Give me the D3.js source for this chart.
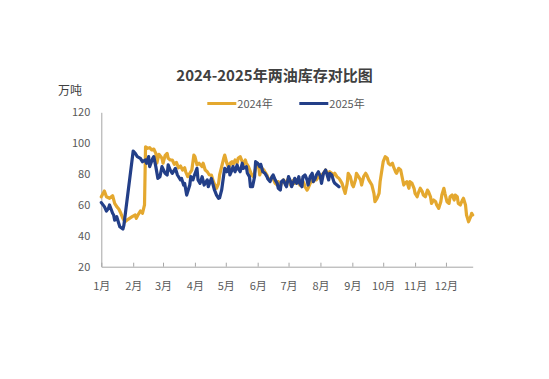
<!DOCTYPE html>
<html><head><meta charset="utf-8">
<script src="https://cdn.jsdelivr.net/npm/d3@7"></script>
<style>
html,body{margin:0;padding:0;background:#fff;}
svg{display:block;font-family:"Noto Sans CJK SC","Noto Sans",sans-serif;}
</style></head>
<body><svg id="chart" width="549" height="379"></svg>
<script>
// ---- data (day-of-year offsets from Jan 1, values in 万吨) ----
const monthLabels = ["1月","2月","3月","4月","5月","6月","7月","8月","9月","10月","11月","12月"];
const yTicks = [20,40,60,80,100,120];
const seriesNames = ["2024年","2025年"];

const days2024 = [0,3,5,8,11,13,15,17,19,21,23,26,30,33,34,36,38,40,42,43,45,47,49,51,53,54,56,59,60,62,64,65,67,69,71,73,75,77,79,81,82,84,86,88,90,91,93,95,98,99,101,103,105,107,109,111,112,114,115,117,119,120,122,124,125,127,128,130,132,133,135,137,138,140,141,143,145,146,148,150,151,153,154,156,158,159,161,162,164,166,167,169,171,172,174,175,177,179,180,182,184,185,187,188,190,192,193,195,197,198,200,201,203,205,206,208,209,211,213,214,216,218,219,221,222,224,226,227,229,231,232,234,235,237,239,240,242,244,245,247,248,250,252,253,255,257,258,260,261,263,265,266,268,270,271,273,274,276,278,279,281,283,284,286,287,289,291,292,294,295,297,299,300,302,304,305,307,308,310,312,313,315,317,318,320,321,323,325,326,328,330,331,333,334,336,338,339,341,343,344,346,347,349,351,352,354,355,357,359,360,361];
const values2024 = [65.3,69,65.3,64.3,66,61,58.9,57.4,54.6,51.3,49.1,50.7,52.4,53.5,51.3,53.9,56.1,54.6,60,97.7,96.7,97.1,95.6,96.2,93.4,87,92.8,90.2,87,91.9,93.4,90.2,89.1,89.1,86.3,87.6,84.1,85.2,82.6,84.1,81.5,78.3,80.5,82.6,92.3,91.3,85.9,87,84.8,87,82.6,81.5,79.4,79.4,75.1,71.8,70.8,74,79.4,84.8,90.2,92.3,87,83.7,87,88,85.9,89.1,87,90.2,91.3,88,85.9,89.1,87,84.8,81.5,79.4,78.3,83.7,87,84.8,79.4,83.7,82.6,81.5,79.4,77.2,76.2,78.3,77.2,74,72.9,75.1,71.8,74,76.2,74,75.1,77.2,72.9,75.1,76.2,74,76.2,75.1,72.9,76.2,74,71.8,69.6,70.7,74,76.2,75.1,77.2,76.2,78.3,77.2,79.4,80.5,82.6,81.5,79.4,81.5,80.5,79.4,80.5,78.3,77.2,76.2,74,71.8,67.5,74,80.5,78.3,72.9,71.8,76.2,80.5,78.3,76.2,72.9,78.3,80.5,79.4,76.2,75.1,72.9,67.5,62.1,64.3,67.5,75.1,83.7,88,91.3,90.2,87,85.9,87,84.8,81.5,80.5,83.7,82.6,79.4,72.9,74,75.1,70.8,75.1,74,70.8,67.5,65.3,67.5,70.8,68.6,66.4,65.3,69.6,68.6,65.3,61,63.2,62.1,60,57.8,62.1,66.4,70.8,67.5,62.1,61,65.3,66.4,63.2,66.4,65.3,61,60,63.2,64.3,60,53.5,49.1,52.4,54.6,53.5];

const days2025 = [0,3,5,7,8,11,12,13,15,17,18,21,22,31,33,35,38,40,43,44,46,47,50,51,53,55,57,59,62,64,65,67,69,72,74,77,78,80,81,83,86,87,89,90,93,94,96,98,100,103,104,107,110,112,114,115,117,119,120,122,124,125,127,128,130,132,133,135,137,138,141,142,144,145,147,149,150,152,154,155,157,159,161,162,164,166,167,169,171,172,174,175,177,179,180,182,184,185,187,188,190,192,193,195,196,198,200,201,203,205,206,208,209,211,213,214,216,218,219,221,222,224,226,227,229,231];
const values2025 = [61.5,58.9,56.1,57.8,60,54.6,53.5,50.2,52.4,48,45.9,44.4,47,94.9,93.4,91.3,90.2,88,89.1,87,91.3,84.8,90.2,91.3,84.8,77.2,78.3,84.8,80.5,79.4,85.9,82.6,80.5,83.7,79.4,76.2,77.2,72.9,74,66.4,72.9,78.3,76.2,78.3,83.7,76.2,74,78.3,72.9,76.2,71.8,77.2,69.7,66.4,64.3,64.6,69.7,79.4,83.7,81.5,84.8,79.4,82.6,84.8,81.5,85.9,83.7,81.5,87,83.7,84.8,80.5,78.3,71.8,71.8,78.3,88,87,84.8,86.3,81.5,80.5,78.3,76.8,75.1,78.3,79.4,76.2,74,70.8,69.7,75.1,76.2,72.9,71.8,78.3,75.1,71.8,75.1,77.2,74,78.3,74,71.8,78.3,79.4,76.2,72.9,78.3,80.5,75.1,77.2,79.4,81.5,78.3,74,80.5,82.6,80.5,76.2,80.5,79.4,75.1,74,72.9,71.8];

const colors = ["#E4A82F","#233F88"];

// ---- chart ----
const svg = d3.select("#chart");
const base = new Date(2024,0,1);
const toDate = d => d3.timeDay.offset(base, d);
const lastDay = d3.max(days2024);

const x = d3.scaleTime().domain([base, toDate(lastDay)]).range([101.3, 472.7]);
const y = d3.scaleLinear().domain([20,120]).range([266.7, 112.3]);

// title
svg.append("text").attr("x",274.5).attr("y",81).attr("text-anchor","middle")
  .attr("font-size",15).attr("font-weight","bold").attr("fill","#404040")
  .text("2024-2025年两油库存对比图");
// unit
svg.append("text").attr("x",58).attr("y",95).attr("font-size",12).attr("fill","#404040").text("万吨");

// axes
const monthDates = d3.range(12).map(m => new Date(2024,m,1));
const xAxis = d3.axisBottom(x).tickValues(monthDates).tickSizeInner(-4).tickSizeOuter(0).tickPadding(16)
  .tickFormat((d,i)=>monthLabels[i]);
const gx = svg.append("g").attr("transform","translate(0,266.7)").call(xAxis);
gx.select(".domain").attr("stroke","#a6a6a6");
gx.selectAll(".tick line").attr("stroke","#a6a6a6");
gx.selectAll(".tick text").attr("font-size",11).attr("fill","#595959").attr("font-family","Noto Sans CJK SC");

const yAxis = d3.axisLeft(y).tickValues(yTicks).tickSize(0).tickPadding(11);
const gy = svg.append("g").attr("transform","translate(101.3,0)").call(yAxis);
gy.select(".domain").attr("stroke","#a6a6a6");
gy.selectAll(".tick text").attr("font-size",11).attr("fill","#595959").attr("font-family","Noto Sans CJK SC");

// lines
const line = d3.line().x(d=>x(toDate(d[0]))).y(d=>y(d[1])).curve(d3.curveLinear);
const s2024 = days2024.map((d,i)=>[d, values2024[i]]);
const s2025 = days2025.map((d,i)=>[d, values2025[i]]);
[s2024, s2025].forEach((s,i)=>{
  svg.append("path").datum(s).attr("d",line).attr("fill","none")
    .attr("stroke",colors[i]).attr("stroke-width",3.2).attr("stroke-linejoin","round").attr("stroke-linecap","round");
});

// legend
const legendX = [207.3, 299.3];
seriesNames.forEach((n,i)=>{
  const g = svg.append("g");
  g.append("line").attr("x1",legendX[i]).attr("x2",legendX[i]+29).attr("y1",103.5).attr("y2",103.5)
    .attr("stroke",colors[i]).attr("stroke-width",3);
  g.append("text").attr("x",legendX[i]+30).attr("y",107.5).attr("font-size",11).attr("fill","#595959").text(n);
});
</script></body></html>
